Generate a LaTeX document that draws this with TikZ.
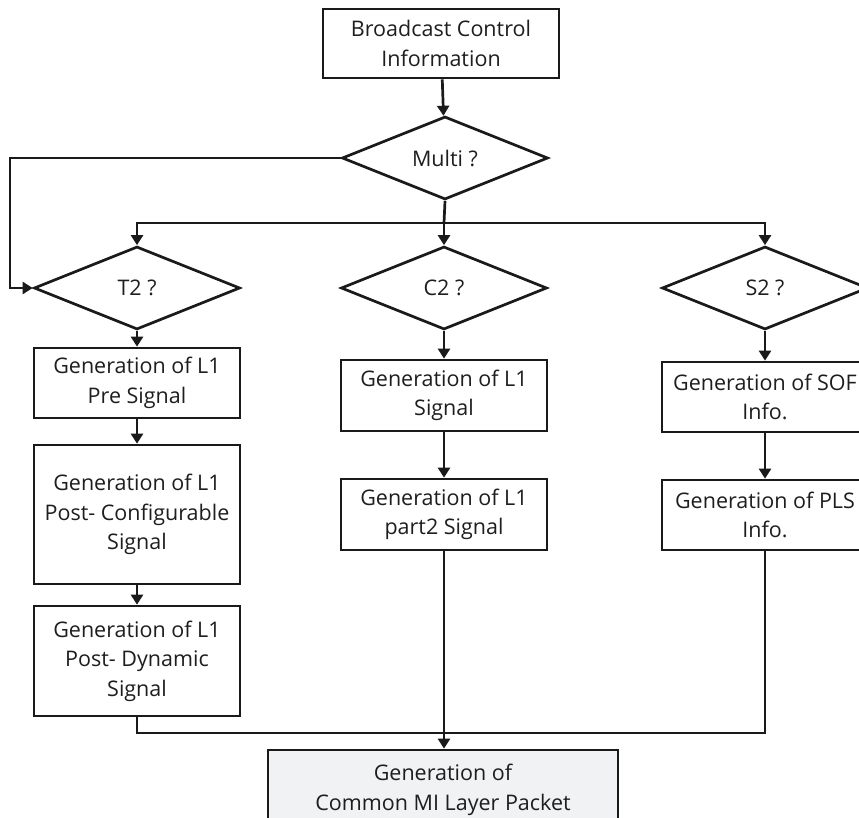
\documentclass[tikz,border=0pt]{standalone}
\usepackage{fontspec}
\setmainfont{Open Sans}
\usetikzlibrary{shapes.geometric,arrows.meta}
\definecolor{ink}{HTML}{1A1A1A}
\definecolor{txt}{HTML}{1E1E1E}
\definecolor{packetfill}{HTML}{F1F2F4}
\tikzset{
  base/.style={draw=ink, line width=2.7pt, text=txt, align=center,
    font=\fontsize{21.5}{29.5}\selectfont, inner sep=0pt},
  procbox/.style={base, rectangle, minimum width=206pt},
  decision/.style={base, diamond, minimum width=206pt, minimum height=83pt},
  flow/.style={draw=ink, line width=2.7pt, -{Triangle[length=10pt,width=12pt]}},
  wire/.style={draw=ink, line width=2.7pt}
}
\begin{document}
\begin{tikzpicture}[x=1pt,y=-1pt]
\useasboundingbox (0,0) rectangle (859,818);
\clip (0,0) rectangle (859,818);

% start and first decision
\node[procbox, minimum width=236pt, minimum height=69pt] (bci) at (441,43.5) {Broadcast Control\\Information};
\node[decision] (multi) at (445,158) {Multi ?};

% per-system decisions
\node[decision] (t2) at (137,288) {T2 ?};
\node[decision] (c2) at (444,288) {C2 ?};
\node[decision] (s2) at (765,288) {S2 ?};

% T2 branch
\node[procbox, minimum height=70pt] (t2pre) at (137,383) {Generation of L1\\Pre Signal};
\node[procbox, minimum height=139pt] (t2conf) at (137,514.5) {Generation of L1\\Post- Configurable\\Signal};
\node[procbox, minimum height=110pt] (t2dyn) at (137,661) {Generation of L1\\Post- Dynamic\\Signal};

% C2 branch
\node[procbox, minimum height=71pt] (c2sig) at (444,395.5) {Generation of L1\\Signal};
\node[procbox, minimum height=71pt] (c2part) at (444,514.5) {Generation of L1\\part2 Signal};

% S2 branch
\node[procbox, minimum height=70pt] (s2sof) at (765,397) {Generation of SOF\\Info.};
\node[procbox, minimum height=70pt] (s2pls) at (765,515) {Generation of PLS\\Info.};

% output
\node[procbox, fill=packetfill, minimum width=350pt, minimum height=80pt] (packet) at (443,790) {Generation of\\Common MI Layer Packet};

% junction points
\coordinate (loopA) at (10,158);
\coordinate (loopB) at (10,288);
\coordinate (busTop) at (444,223);
\coordinate (busBot) at (444,733);

% connectors
\draw[flow] (bci) -- (multi);
\draw[flow] (multi.west) -- (loopA) -- (loopB) -- (t2.west);
\draw[wire] (multi.south) -- (busTop);
\draw[flow] (busTop) -| (t2.north);
\draw[flow] (busTop) -- (c2.north);
\draw[flow] (busTop) -| (s2.north);

\draw[flow] (t2) -- (t2pre);
\draw[flow] (t2pre) -- (t2conf);
\draw[flow] (t2conf) -- (t2dyn);

\draw[flow] (c2) -- (c2sig);
\draw[flow] (c2sig) -- (c2part);

\draw[flow] (s2) -- (s2sof);
\draw[flow] (s2sof) -- (s2pls);

\draw[wire] (t2dyn.south) |- (busBot);
\draw[wire] (s2pls.south) |- (busBot);
\draw[flow] (c2part.south) -- (c2part.south |- packet.north);
\end{tikzpicture}
\end{document}
